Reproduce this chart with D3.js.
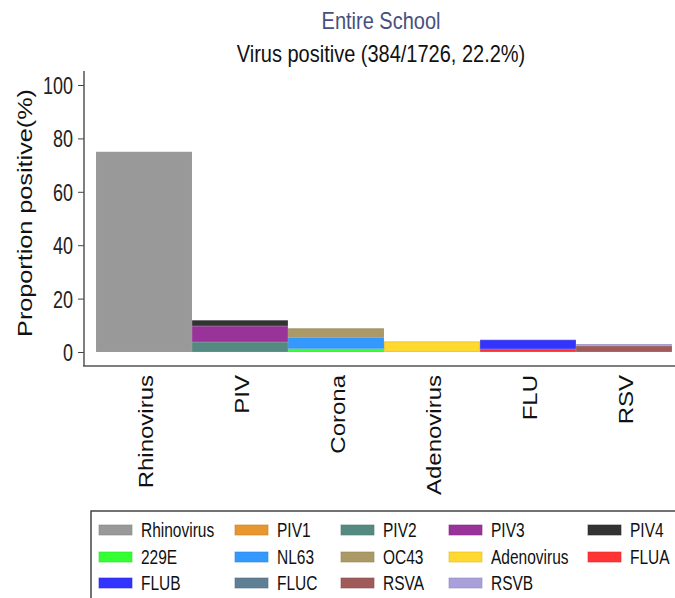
<!DOCTYPE html>
<html>
<head>
<meta charset="utf-8">
<script src="https://cdn.jsdelivr.net/npm/d3@7"></script>
<style>
  body { margin: 0; background: #fff; }
  svg text { font-family: "Liberation Sans", Arial, sans-serif; }
</style>
</head>
<body>
<svg id="canvas" width="675" height="598"></svg>
<script>
// groups on the x axis
let groups = ['Rhinovirus', 'PIV', 'Corona', 'Adenovirus', 'FLU', 'RSV']

// virus types, the group each one stacks into, and % positive
let viruses = ['Rhinovirus', 'PIV1', 'PIV2', 'PIV3', 'PIV4', '229E', 'NL63', 'OC43',
               'Adenovirus', 'FLUA', 'FLUB', 'FLUC', 'RSVA', 'RSVB']
let virusGroup = ['Rhinovirus', 'PIV', 'PIV', 'PIV', 'PIV', 'Corona', 'Corona', 'Corona',
                  'Adenovirus', 'FLU', 'FLU', 'FLU', 'RSV', 'RSV']
let virusValue = [75.0, 0, 3.7, 6.0, 2.2, 1.2, 4.3, 3.4,
                  4.0, 1.1, 3.5, 0, 2.3, 0.7]

let virusColor = ['#999999', '#e8962e', '#548a82', '#993399', '#333333', '#33ff33', '#3399ff', '#ab9a66',
                  '#ffd92f', '#ff3333', '#3333ff', '#5f7f94', '#a05a5a', '#a99fdb']

let yTicks = [0, 20, 40, 60, 80, 100]

let canvas = d3.select('#canvas')

let xScale = d3.scaleBand().domain(groups).range([96, 672]).padding(0)
let yScale = d3.scaleLinear().domain([0, 100]).range([352, 85])
let color = d3.scaleOrdinal().domain(viruses).range(virusColor)

// stack: one row per group, one key per virus
let rows = groups.map((g) => {
    let row = { group: g }
    viruses.forEach((v, i) => {
        row[v] = virusGroup[i] === g ? virusValue[i] : 0
    })
    return row
})
let series = d3.stack().keys(viruses)(rows)

// titles (the original fonts are tall, so stretch them a bit vertically)
canvas.append('text')
    .attr('transform', 'translate(381, 29) scale(1, 1.2)')
    .attr('text-anchor', 'middle')
    .style('font-size', '20px')
    .attr('fill', '#465080')
    .text('Entire School')

canvas.append('text')
    .attr('transform', 'translate(381, 62) scale(1, 1.2)')
    .attr('text-anchor', 'middle')
    .style('font-size', '20px')
    .attr('fill', '#111')
    .text('Virus positive (384/1726, 22.2%)')

// bars
series.forEach((s) => {
    canvas.append('g')
        .selectAll('rect')
        .data(s.filter((d) => d[1] - d[0] > 0))
        .enter()
        .append('rect')
        .attr('x', (d) => xScale(d.data.group) + 0.5)
        .attr('width', xScale.bandwidth() - 1)
        .attr('y', (d) => yScale(d[1]) + 0.5)
        .attr('height', (d) => Math.max(0, yScale(d[0]) - yScale(d[1]) - 1))
        .attr('fill', color(s.key))
        .attr('stroke', d3.color(color(s.key)).darker(0.4))
        .attr('stroke-opacity', 0.7)
        .attr('stroke-width', 1)
})

// y axis
let yAxis = d3.axisLeft(yScale).tickValues(yTicks).tickSize(6).tickSizeOuter(0)
let yG = canvas.append('g')
    .attr('transform', 'translate(84, 0)')
    .call(yAxis)
yG.select('.domain').remove()
yG.selectAll('.tick line').attr('stroke', '#444')
yG.selectAll('.tick text')
    .attr('x', null).attr('dy', null)
    .attr('transform', 'translate(-11, 0) scale(1, 1.3)')
    .attr('dy', '0.36em')
    .style('font-size', '18px')
    .style('font-family', '"Liberation Sans", Arial, sans-serif')
    .attr('fill', '#222')

canvas.append('line')
    .attr('x1', 84).attr('x2', 84)
    .attr('y1', 71).attr('y2', 366)
    .attr('stroke', '#555').attr('stroke-width', 1.5)

// x axis
let xAxis = d3.axisBottom(xScale).tickSize(0).tickSizeOuter(0)
let xG = canvas.append('g')
    .attr('transform', 'translate(0, 366)')
    .call(xAxis)
xG.select('.domain').remove()
xG.selectAll('.tick text')
    .attr('y', null).attr('dy', null)
    .attr('transform', 'translate(2, 9) rotate(-90) scale(1.2, 1)')
    .attr('text-anchor', 'end')
    .attr('dy', '0.36em')
    .style('font-size', '20px')
    .style('font-family', '"Liberation Sans", Arial, sans-serif')
    .attr('fill', '#111')

canvas.append('line')
    .attr('x1', 83).attr('x2', 675)
    .attr('y1', 366).attr('y2', 366)
    .attr('stroke', '#555').attr('stroke-width', 1.5)

canvas.append('text')
    .attr('transform', 'translate(32, 213) rotate(-90) scale(1.2, 1)')
    .attr('text-anchor', 'middle')
    .style('font-size', '21px')
    .attr('fill', '#111')
    .text('Proportion positive(%)')

// legend
canvas.append('rect')
    .attr('x', 91).attr('y', 511)
    .attr('width', 600).attr('height', 100)
    .attr('fill', 'none')
    .attr('stroke', '#444').attr('stroke-width', 1.5)

let legendCols = [99, 235, 341, 449, 588]
let legendRows = [530, 557, 583]

let legend = canvas.selectAll('.legend-item')
    .data(viruses)
    .enter()
    .append('g')
    .attr('class', 'legend-item')
    .attr('transform', (v, i) => 'translate(' + legendCols[i % 5] + ', ' + legendRows[Math.floor(i / 5)] + ')')

legend.append('rect')
    .attr('x', 0).attr('y', -5)
    .attr('width', 33).attr('height', 10)
    .attr('fill', (v) => color(v))
    .attr('stroke', (v) => d3.color(color(v)).darker(0.4))
    .attr('stroke-opacity', 0.6)

legend.append('text')
    .attr('transform', 'translate(42, 0) scale(1, 1.25)')
    .attr('dy', '0.36em')
    .style('font-size', '15.5px')
    .attr('fill', '#111')
    .text((v) => v)
</script>
</body>
</html>
